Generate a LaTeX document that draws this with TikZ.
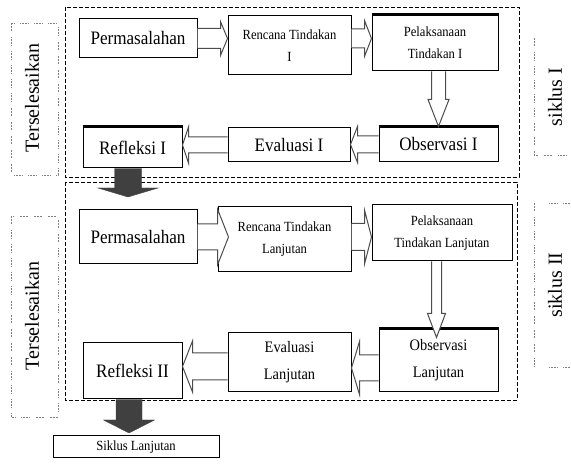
\documentclass[tikz,border=0pt]{standalone}
\usepackage{fontspec}
\setmainfont{Liberation Serif}[FakeStretch=0.9]
\newfontfamily\rotfont{Liberation Serif}
\usetikzlibrary{calc}

% block arrows: [style]{from}{tip}{shaft half}{head half}{head length}
\newcommand{\arrowR}[6][hollow]{%
  \draw[#1] let \p1=(#2), \p2=(#3) in
    (\x1,\y1+#4) -- (\x2-#6,\y1+#4) -- (\x2-#6,\y1+#5) -- (\x2,\y1)
    -- (\x2-#6,\y1-#5) -- (\x2-#6,\y1-#4) -- (\x1,\y1-#4);}
\newcommand{\arrowL}[6][hollow]{%
  \draw[#1] let \p1=(#2), \p2=(#3) in
    (\x1,\y1+#4) -- (\x2+#6,\y1+#4) -- (\x2+#6,\y1+#5) -- (\x2,\y1)
    -- (\x2+#6,\y1-#5) -- (\x2+#6,\y1-#4) -- (\x1,\y1-#4);}
\newcommand{\arrowD}[6][hollow]{%
  \draw[#1] let \p1=(#2), \p2=(#3) in
    (\x1-#4,\y1) -- (\x1-#4,\y2+#6) -- (\x1-#5,\y2+#6) -- (\x1,\y2)
    -- (\x1+#5,\y2+#6) -- (\x1+#4,\y2+#6) -- (\x1+#4,\y1);}

\begin{document}
\begin{tikzpicture}[x=1pt,y=-1pt,
  box/.style={draw,line width=1pt,fill=white,align=center,inner sep=1pt},
  big/.style={font=\fontsize{19}{21}\selectfont},
  small/.style={font=\fontsize{14}{22}\selectfont},
  mid/.style={font=\fontsize{16}{27}\selectfont},
  side/.style={font=\rotfont\fontsize{20}{22}\selectfont,rotate=90},
  cyclebox/.style={draw,dash pattern=on 4pt off 2pt,line width=0.9pt},
  dotbox/.style={draw=black!50,line width=0.7pt,
    dash pattern=on 0.6pt off 0.9pt on 0.6pt off 0.9pt on 0.6pt off 0.9pt on 0.6pt off 0.9pt on 0.6pt off 0.9pt on 0.6pt off 6pt},
  hollow/.style={draw=black!70,line width=1pt,fill=white},
  darkarr/.style={fill=black!75,draw=black!75}]
\clip (0,0) rectangle (571,470);

% siklus frames
\draw[cyclebox] (65,7) rectangle (519,177);
\draw[cyclebox] (65,182) rectangle (517,400);
\draw[dotbox] (11,23) rectangle (58,175);
\draw[dotbox] (11,216) rectangle (58,417);
\draw[dotbox] (534,38) -- (534,155) -- (571,155);
\draw[dotbox] (534,203) -- (534,367);
\draw[dotbox] (549,203) -- (571,203);
\draw[dotbox] (549,367) -- (571,367);
\node[side] (ters1) at (32,98) {Terselesaikan};
\node[side] (ters2) at (32,316) {Terselesaikan};
\node[side] (sik1) at (555,97) {siklus I};
\node[side] (sik2) at (555,285) {siklus II};

% siklus I
\node[box,big,minimum width=118,minimum height=39] (perm1) at (138,38.5) {Permasalahan};
\node[box,small,minimum width=123,minimum height=59] (renc1) at (289.5,45.5) {Rencana Tindakan\\I};
\node[box,small,minimum width=126,minimum height=56] (pelak1) at (435,43) {Pelaksanaan\\Tindakan I};
\node[box,big,minimum width=119,minimum height=35] (obs1) at (438.5,144.5) {Observasi I};
\node[box,big,minimum width=122,minimum height=34] (eval1) at (289,145) {Evaluasi I};
\node[box,big,minimum width=99,minimum height=41] (refl1) at (132.5,147.5) {Refleksi I};

% siklus II
\node[box,big,minimum width=118,minimum height=54] (perm2) at (138,237) {Permasalahan};
\node[box,small,minimum width=133,minimum height=65] (renc2) at (284.5,239.5) {Rencana Tindakan\\Lanjutan};
\node[box,small,minimum width=140,minimum height=56] (pelak2) at (442,233) {Pelaksanaan\\Tindakan Lanjutan};
\node[box,mid,minimum width=119,minimum height=63] (obs2) at (438.5,360.5) {Observasi\\Lanjutan};
\node[box,mid,minimum width=123,minimum height=59] (eval2) at (289.5,362.5) {Evaluasi\\Lanjutan};
\node[box,big,minimum width=99,minimum height=56] (refl2) at (132.5,371) {Refleksi II};
\node[box,small,minimum width=166,minimum height=22] (lanj) at (136,447) {Siklus Lanjutan};

\foreach \n in {pelak1,obs1,refl1,obs2}
  \draw[line width=2.2pt] (\n.north west) -- (\n.north east);

% arrows siklus I
\arrowR{perm1.east}{renc1.west |- perm1.east}{10pt}{17pt}{7pt}
\arrowR{renc1.east |- perm1.east}{pelak1.west |- perm1.east}{9.5pt}{18pt}{7pt}
\arrowD{obs1.north |- pelak1.south}{obs1.north}{7pt}{10.5pt}{27pt}
\arrowL{obs1.west}{eval1.east |- obs1.west}{8.5pt}{18pt}{7pt}
\arrowL{eval1.west}{refl1.east |- eval1.west}{8pt}{18pt}{6pt}
\coordinate (tip1) at (128,197);
\arrowD[darkarr]{tip1 |- refl1.south}{tip1}{13.5pt}{30pt}{9pt}

% arrows siklus II
\coordinate (b1tip) at ($(renc2.west |- perm2.east)+(11,0)$);
\arrowR{perm2.east}{b1tip}{13pt}{28pt}{11pt}
\arrowR{renc2.east |- perm2.east}{pelak2.west |- perm2.east}{13.5pt}{27pt}{7pt}
\coordinate (b3tip) at ($(obs2.north)+(-2,9)$);
\arrowD{b3tip |- pelak2.south}{b3tip}{5pt}{9pt}{24pt}
\coordinate (b4) at ($(obs2.west)+(0,7.5)$);
\arrowL{b4}{eval2.east |- b4}{13pt}{26.5pt}{8pt}
\coordinate (b5) at ($(eval2.west)+(0,4)$);
\arrowL{b5}{refl2.east |- b5}{13.5pt}{25.5pt}{10pt}
\coordinate (tip2) at (129,433);
\arrowD[darkarr]{tip2 |- refl2.south}{tip2}{13pt}{25.5pt}{13pt}
\end{tikzpicture}
\end{document}
